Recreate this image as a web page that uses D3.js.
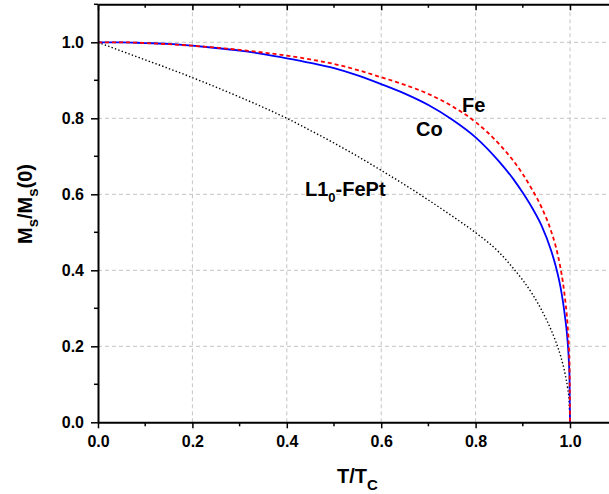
<!DOCTYPE html>
<html><head><meta charset="utf-8">
<script src="https://cdn.jsdelivr.net/npm/d3@7"></script>
<style>
html,body{margin:0;padding:0;background:#fff;overflow:hidden}
text{font-family:"Liberation Sans",Arial,sans-serif;font-weight:bold;fill:#000}
</style></head>
<body><svg id="c" width="609" height="494"></svg>
<script>
// Data (T/Tc vs Ms/Ms(0))
const feT = [0, 0.05, 0.1, 0.15, 0.2, 0.25, 0.3, 0.35, 0.4, 0.45, 0.5, 0.55, 0.6, 0.65, 0.7, 0.75, 0.8, 0.85, 0.88, 0.9, 0.92, 0.94, 0.96, 0.97, 0.98, 0.985, 0.99, 0.993, 0.996, 0.998, 0.999, 1.0];
const feM = [1.0, 1.0, 0.998, 0.995, 0.991, 0.986, 0.98, 0.973, 0.965, 0.955, 0.943, 0.927, 0.908, 0.888, 0.864, 0.832, 0.79, 0.732, 0.688, 0.653, 0.612, 0.565, 0.503, 0.462, 0.405, 0.368, 0.32, 0.285, 0.235, 0.185, 0.145, 0.0];
const coT = [0, 0.05, 0.1, 0.15, 0.2, 0.25, 0.3, 0.35, 0.4, 0.45, 0.5, 0.55, 0.6, 0.65, 0.7, 0.75, 0.8, 0.85, 0.88, 0.9, 0.92, 0.94, 0.96, 0.97, 0.98, 0.985, 0.99, 0.993, 0.996, 0.998, 0.999, 1.0];
const coM = [1.0, 1.0, 0.998, 0.996, 0.991, 0.985, 0.978, 0.969, 0.958, 0.946, 0.932, 0.913, 0.89, 0.865, 0.835, 0.797, 0.75, 0.686, 0.64, 0.604, 0.564, 0.517, 0.452, 0.41, 0.355, 0.318, 0.272, 0.24, 0.195, 0.15, 0.115, 0.0];
const ptT = [0, 0.05, 0.1, 0.15, 0.2, 0.25, 0.3, 0.35, 0.4, 0.45, 0.5, 0.55, 0.6, 0.65, 0.7, 0.75, 0.8, 0.85, 0.88, 0.9, 0.92, 0.94, 0.96, 0.97, 0.98, 0.99, 0.995, 0.998, 1.0];
const ptM = [1.0, 0.977, 0.954, 0.931, 0.907, 0.882, 0.856, 0.829, 0.8, 0.768, 0.735, 0.7, 0.663, 0.625, 0.585, 0.543, 0.499, 0.447, 0.405, 0.374, 0.338, 0.295, 0.243, 0.212, 0.175, 0.125, 0.09, 0.058, 0.0];
const xTicks = [0, 0.2, 0.4, 0.6, 0.8, 1.0];
const yTicks = [0, 0.2, 0.4, 0.6, 0.8, 1.0];
const xMinor = [0.1, 0.3, 0.5, 0.7, 0.9, 1.1];
const yMinor = [0.1, 0.3, 0.5, 0.7, 0.9, 1.1];

const svg = d3.select("#c");
const x = d3.scaleLinear().domain([0, 1.1]).range([98, 617.2]);
const y = d3.scaleLinear().domain([0, 1.1]).range([422.3, 4.3]);
const fmt = d3.format(".1f");

// grid
const grid = svg.append("g").attr("stroke", "#c4c4c4").attr("stroke-width", 1).attr("stroke-dasharray", "4,3");
grid.selectAll(".gx").data(xTicks.filter(d => d > 0)).join("line")
  .attr("x1", d => x(d)).attr("x2", d => x(d)).attr("y1", y(0)).attr("y2", y(1.1));
grid.selectAll(".gy").data(yTicks.filter(d => d > 0)).join("line")
  .attr("y1", d => y(d)).attr("y2", d => y(d)).attr("x1", x(0)).attr("x2", x(1.1));

// curves
const line = (T, M) => d3.line().x(i => x(T[i])).y(i => y(M[i])).curve(d3.curveMonotoneX)(d3.range(T.length));
svg.append("path").attr("d", line(ptT, ptM)).attr("fill", "none").attr("stroke", "#000")
  .attr("stroke-width", 1.4).attr("stroke-dasharray", "1.4,2.2");
svg.append("path").attr("d", line(coT, coM)).attr("fill", "none").attr("stroke", "#0000ff")
  .attr("stroke-width", 1.8);
svg.append("path").attr("d", line(feT, feM)).attr("fill", "none").attr("stroke", "#ff0000")
  .attr("stroke-width", 1.8).attr("stroke-dasharray", "4,3");

// axes
const gBottom = svg.append("g").attr("transform", `translate(0,${y(0)})`)
  .call(d3.axisBottom(x).tickValues(xTicks).tickFormat(fmt).tickSize(6).tickSizeOuter(0));
gBottom.append("g").selectAll("line").data(xMinor).join("line")
  .attr("x1", d => x(d)).attr("x2", d => x(d)).attr("y1", 0).attr("y2", 4).attr("stroke", "#000").attr("stroke-width", 1.5);
const gTop = svg.append("g").attr("transform", `translate(0,${y(1.1)})`)
  .call(d3.axisBottom(x).tickValues(xTicks).tickFormat("").tickSize(6).tickSizeOuter(0));
gTop.append("g").selectAll("line").data(xMinor).join("line")
  .attr("x1", d => x(d)).attr("x2", d => x(d)).attr("y1", 0).attr("y2", 3.5).attr("stroke", "#000").attr("stroke-width", 1.5);
const gLeft = svg.append("g").attr("transform", `translate(${x(0)},0)`)
  .call(d3.axisLeft(y).tickValues(yTicks).tickFormat(fmt).tickSize(7).tickSizeOuter(0));
gLeft.append("g").selectAll("line").data(yMinor).join("line")
  .attr("y1", d => y(d)).attr("y2", d => y(d)).attr("x1", 0).attr("x2", -4).attr("stroke", "#000").attr("stroke-width", 1.5);

[gBottom, gTop, gLeft].forEach(g => {
  g.select(".domain").attr("stroke", "#000").attr("stroke-width", 2);
  g.selectAll(".tick line").attr("stroke", "#000").attr("stroke-width", 1.5);
  g.selectAll("text").attr("font-family", "Liberation Sans, Arial, sans-serif").attr("font-weight", "bold").attr("font-size", 16).attr("fill", "#000");
});
gBottom.selectAll(".tick text").attr("y", 13);
gLeft.selectAll(".tick text").attr("x", -14);

// labels
svg.append("text").attr("x", 462).attr("y", 111.5).attr("font-size", 20).text("Fe");
svg.append("text").attr("x", 416).attr("y", 136).attr("font-size", 20).text("Co");
const lbl = svg.append("text").attr("x", 305).attr("y", 195.5).attr("font-size", 20);
lbl.append("tspan").text("L1");
lbl.append("tspan").attr("font-size", 13).attr("dy", 6).text("0");
lbl.append("tspan").attr("dy", -6).text("-FePt");

// axis titles
const xt = svg.append("text").attr("x", 357.5).attr("y", 483.3).attr("text-anchor", "middle").attr("font-size", 20);
xt.append("tspan").text("T/T");
xt.append("tspan").attr("font-size", 15).attr("dy", 7).text("C");

const yt = svg.append("text").attr("transform", "translate(31.5,204) rotate(-90)").attr("text-anchor", "middle").attr("font-size", 20);
yt.append("tspan").text("M");
yt.append("tspan").attr("font-size", 15).attr("dy", 6).text("s");
yt.append("tspan").attr("dy", -6).text("/M");
yt.append("tspan").attr("font-size", 15).attr("dy", 6).text("s");
yt.append("tspan").attr("dy", -6).text("(0)");
</script></body></html>
